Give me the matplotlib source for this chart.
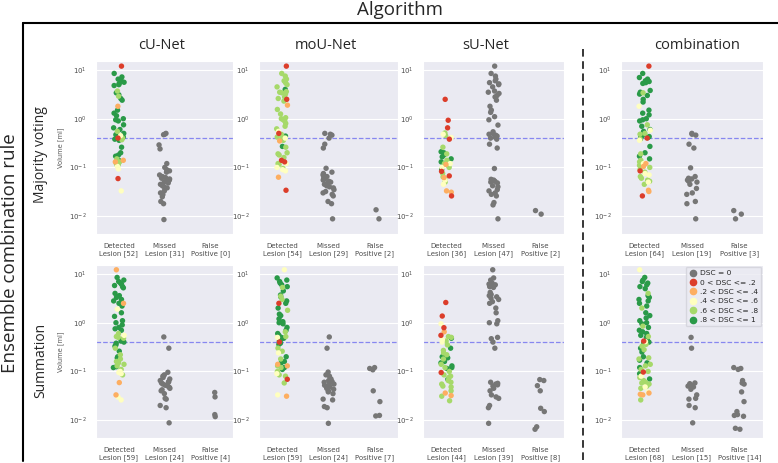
import numpy as np
import pandas as pd
import matplotlib
matplotlib.use('Agg')
import matplotlib.pyplot as plt
import seaborn as sns
from matplotlib.lines import Line2D

# --- data: lesion volumes [ml], detected lesions grouped by DSC class (5 = .8-1 ... 1 = 0-.2) ---
cu_mv_det = {
    5: [8.5, 7.2, 6.5, 6.0, 5.6, 5.3, 5.0, 4.8, 3.4, 3.1, 2.6, 2.4, 1.5, 1.3, 1.15, 1.0,
        0.95, 0.9, 0.75, 0.65, 0.6, 0.5, 0.47, 0.44, 0.42, 0.38, 0.36, 0.26, 0.2, 0.18, 0.17, 0.14],
    4: [3.7, 2.9, 0.55, 0.4, 0.37, 0.15, 0.13, 0.12, 0.115, 0.11],
    3: [0.45, 0.105, 0.093, 0.033],
    2: [1.8, 0.14, 0.13],
    1: [12.0, 0.4, 0.059],
}
cu_mv_missed = [0.5, 0.48, 0.47, 0.29, 0.24, 0.12, 0.1, 0.09, 0.085, 0.08, 0.07, 0.065, 0.062,
                0.06, 0.058, 0.055, 0.052, 0.05, 0.048, 0.045, 0.042, 0.04, 0.038, 0.033, 0.03,
                0.028, 0.027, 0.025, 0.02, 0.018, 0.0085]
cu_mv_fp = []

mou_mv_det = {
    5: [4.0, 0.44, 0.27],
    4: [8.5, 7.5, 6.5, 6.0, 5.5, 5.0, 4.5, 3.6, 3.5, 3.4, 3.2, 2.8, 2.6, 2.3, 1.55, 1.25, 1.05,
        1.0, 0.95, 0.9, 0.8, 0.7, 0.62, 0.48, 0.45, 0.42, 0.38, 0.36, 0.26, 0.2, 0.19, 0.18,
        0.16, 0.12, 0.115, 0.095],
    3: [0.55, 0.4, 0.12, 0.1, 0.09, 0.085],
    2: [1.9, 0.35, 0.063],
    1: [12.0, 2.5, 0.5, 0.14, 0.13, 0.034],
}
mou_mv_missed = [0.5, 0.48, 0.46, 0.4, 0.3, 0.25, 0.096, 0.08, 0.075, 0.07, 0.065, 0.06, 0.058,
                 0.055, 0.052, 0.05, 0.048, 0.045, 0.042, 0.04, 0.038, 0.035, 0.032, 0.03, 0.028,
                 0.026, 0.02, 0.018, 0.0088]
mou_mv_fp = [0.0135, 0.0088]

su_mv_det = {
    5: [0.21, 0.2, 0.18, 0.165, 0.15, 0.13, 0.11, 0.09],
    4: [0.51, 0.45, 0.26, 0.19, 0.14, 0.12, 0.1, 0.075, 0.064, 0.058, 0.05],
    3: [0.48, 0.41, 0.12, 0.1, 0.055, 0.045],
    2: [0.115, 0.062, 0.033, 0.031],
    1: [2.5, 0.93, 0.65, 0.38, 0.083, 0.067, 0.026],
}
su_mv_missed = [12.0, 8.5, 7.5, 6.5, 6.0, 5.5, 5.2, 5.0, 4.5, 3.7, 3.5, 3.3, 3.0, 2.8, 2.4, 1.8,
                1.5, 1.35, 1.1, 0.95, 0.74, 0.54, 0.5, 0.48, 0.46, 0.44, 0.42, 0.4, 0.38, 0.3,
                0.25, 0.095, 0.057, 0.055, 0.052, 0.05, 0.048, 0.042, 0.04, 0.035, 0.033, 0.03,
                0.028, 0.026, 0.019, 0.017, 0.0088]
su_mv_fp = [0.013, 0.011]

comb_mv_det = {
    5: [8.5, 7.0, 6.5, 6.0, 5.8, 5.5, 5.3, 3.8, 3.5, 3.2, 3.0, 2.5, 2.2, 1.5, 1.3, 1.2, 1.0,
        0.95, 0.9, 0.7, 0.6, 0.55, 0.46, 0.45, 0.43, 0.42, 0.41, 0.39, 0.27, 0.2, 0.17, 0.15],
    4: [3.4, 0.75, 0.5, 0.48, 0.38, 0.19, 0.14, 0.13, 0.11, 0.1, 0.09, 0.08, 0.065, 0.06,
        0.055, 0.052, 0.045],
    3: [1.8, 0.58, 0.36, 0.12, 0.075, 0.07, 0.05],
    2: [0.12, 0.105, 0.034, 0.032],
    1: [12.0, 0.4, 0.085, 0.026],
}
comb_mv_missed = [0.5, 0.48, 0.46, 0.3, 0.25, 0.098, 0.065, 0.06, 0.058, 0.055, 0.052, 0.05,
                  0.045, 0.037, 0.03, 0.028, 0.02, 0.018, 0.0088]
comb_mv_fp = [0.013, 0.011, 0.0088]

cu_sum_det = {
    5: [8.5, 7.5, 7.0, 6.5, 6.2, 5.8, 5.5, 5.2, 4.0, 3.6, 3.3, 3.0, 2.8, 2.5, 2.2, 1.6, 1.35,
        1.1, 1.0, 0.9, 0.8, 0.75, 0.7, 0.45, 0.42, 0.4, 0.38, 0.35, 0.33, 0.26, 0.2, 0.19,
        0.17, 0.125, 0.12],
    4: [0.6, 0.52, 0.5, 0.48, 0.3, 0.22, 0.18, 0.16, 0.15, 0.14, 0.13, 0.11, 0.085],
    3: [1.9, 0.55, 0.1, 0.095, 0.09, 0.03, 0.026],
    2: [12.2, 2.5, 0.059, 0.033],
}
cu_sum_missed = [0.51, 0.3, 0.096, 0.085, 0.08, 0.075, 0.07, 0.065, 0.062, 0.06, 0.058, 0.055,
                 0.052, 0.05, 0.047, 0.045, 0.042, 0.04, 0.035, 0.028, 0.027, 0.02, 0.018, 0.0088]
cu_sum_fp = [0.037, 0.03, 0.013, 0.0118]

mou_sum_det = {
    5: [8.3, 7.5, 7.0, 6.5, 6.0, 5.5, 4.5, 3.7, 3.4, 2.8, 2.5, 2.0, 1.5, 1.4, 1.2, 1.05, 1.0,
        0.95, 0.8, 0.7, 0.6, 0.55, 0.5, 0.48, 0.45, 0.42, 0.38, 0.36, 0.2, 0.16, 0.15, 0.12, 0.11],
    4: [5.3, 3.5, 3.0, 1.8, 0.65, 0.52, 0.3, 0.26, 0.18, 0.13, 0.12, 0.1, 0.085, 0.08, 0.058],
    3: [12.2, 0.5, 0.24, 0.09, 0.033],
    2: [0.14, 0.13, 0.031],
    1: [2.5, 0.4, 0.069],
}
mou_sum_missed = [0.51, 0.3, 0.097, 0.085, 0.08, 0.07, 0.065, 0.062, 0.06, 0.058, 0.055, 0.052,
                  0.05, 0.048, 0.045, 0.043, 0.04, 0.038, 0.035, 0.027, 0.026, 0.019, 0.018, 0.0086]
mou_sum_fp = [0.12, 0.115, 0.108, 0.04, 0.024, 0.0125, 0.0122]

su_sum_det = {
    5: [0.48, 0.3, 0.2, 0.2, 0.19, 0.16, 0.15, 0.13, 0.12, 0.115, 0.069],
    4: [0.52, 0.5, 0.42, 0.35, 0.27, 0.24, 0.22, 0.18, 0.14, 0.12, 0.1, 0.085, 0.08, 0.075,
        0.065, 0.06, 0.055, 0.05, 0.048, 0.04, 0.031, 0.025],
    3: [0.95, 0.45, 0.4],
    2: [0.65, 0.036, 0.032],
    1: [2.6, 1.37, 0.79, 0.55, 0.095],
}
su_sum_missed = [12.2, 8.3, 7.5, 6.5, 6.2, 6.0, 5.8, 5.5, 5.3, 4.2, 3.8, 3.6, 3.4, 3.2, 3.0, 2.7,
                 2.5, 2.0, 1.6, 1.1, 1.0, 0.95, 0.5, 0.47, 0.4, 0.3, 0.06, 0.057, 0.055, 0.053,
                 0.05, 0.045, 0.04, 0.033, 0.03, 0.028, 0.02, 0.018, 0.0086]
su_sum_fp = [0.068, 0.065, 0.051, 0.04, 0.0175, 0.015, 0.0073, 0.0065]

comb_sum_det = {
    5: [8.5, 7.5, 7.0, 6.5, 6.0, 5.5, 5.0, 3.6, 3.3, 3.0, 2.8, 2.5, 2.2, 1.6, 1.4, 1.25, 1.1,
        1.0, 0.95, 0.8, 0.7, 0.65, 0.6, 0.55, 0.5, 0.45, 0.43, 0.4, 0.38, 0.3, 0.25, 0.2, 0.17,
        0.15, 0.12, 0.09, 0.07],
    4: [4.0, 2.0, 0.85, 0.52, 0.36, 0.33, 0.28, 0.19, 0.18, 0.14, 0.13, 0.11, 0.1, 0.075,
        0.065, 0.06, 0.058, 0.055, 0.05, 0.045, 0.026],
    3: [12.2, 0.41, 0.08, 0.048, 0.038],
    2: [0.036, 0.034, 0.033],
    1: [0.42, 0.097],
}
comb_sum_missed = [0.5, 0.3, 0.058, 0.056, 0.054, 0.052, 0.05, 0.048, 0.043, 0.033, 0.028,
                   0.027, 0.02, 0.018, 0.0088]
comb_sum_fp = [0.12, 0.115, 0.11, 0.065, 0.058, 0.055, 0.038, 0.024, 0.015, 0.013, 0.0125,
               0.012, 0.0068, 0.0065]

algorithms = ['cU-Net', 'moU-Net', 'sU-Net', 'combination']
rules = ['Majority voting', 'Summation']
dsc_labels = ['DSC = 0', '0 < DSC <= .2', '.2 < DSC <= .4', '.4 < DSC <= .6',
              '.6 < DSC <= .8', '.8 < DSC <= 1']
dsc_colors = ['#767676', '#dc3d2a', '#fdae61', '#ffffbf', '#a6d96a', '#2a9a48']
threshold = 0.4

panels = [
    (0, 0, cu_mv_det, cu_mv_missed, cu_mv_fp),
    (0, 1, mou_mv_det, mou_mv_missed, mou_mv_fp),
    (0, 2, su_mv_det, su_mv_missed, su_mv_fp),
    (0, 3, comb_mv_det, comb_mv_missed, comb_mv_fp),
    (1, 0, cu_sum_det, cu_sum_missed, cu_sum_fp),
    (1, 1, mou_sum_det, mou_sum_missed, mou_sum_fp),
    (1, 2, su_sum_det, su_sum_missed, su_sum_fp),
    (1, 3, comb_sum_det, comb_sum_missed, comb_sum_fp),
]


def panel_frame(det, missed, fp):
    n_det = sum(len(v) for v in det.values())
    cats = [f'Detected\nLesion [{n_det}]', f'Missed\nLesion [{len(missed)}]',
            f'False\nPositive [{len(fp)}]']
    rows = []
    for k, vals in det.items():
        rows += [(cats[0], v, dsc_labels[k]) for v in vals]
    rows += [(cats[1], v, dsc_labels[0]) for v in missed]
    rows += [(cats[2], v, dsc_labels[0]) for v in fp]
    return pd.DataFrame(rows, columns=['cat', 'vol', 'dsc']), cats


sns.set_style('darkgrid')
plt.rcParams['font.family'] = ['DejaVu Sans']
np.random.seed(7)  # horizontal jitter only

W, H = 778, 463
fig = plt.figure(figsize=(W / 100, H / 100), dpi=100)

# panel extents in pixels
col_px = [(96, 233), (259, 398), (423, 564), (621, 763)]
row_px = [(61, 234), (265, 438)]
palette = dict(zip(dsc_labels, dsc_colors))

for r, c, det, missed, fp in panels:
    x0, x1 = col_px[c]
    y0, y1 = row_px[r]
    ax = fig.add_axes([x0 / W, 1 - y1 / H, (x1 - x0) / W, (y1 - y0) / H])
    df, cats = panel_frame(det, missed, fp)
    sns.stripplot(data=df, x='cat', y='vol', hue='dsc', order=cats, hue_order=dsc_labels,
                  palette=palette, jitter=0.12, size=3.9, linewidth=0, legend=False, ax=ax)
    ax.set_yscale('log')
    ax.set_ylim(0.0043, 15.3)
    ax.set_xlim(-0.5, 2.5)
    ax.axhline(threshold, ls='--', color='#6f6ff0', lw=0.9, alpha=0.8, zorder=1)
    ax.set_xlabel('')
    ax.set_ylabel('Volume [ml]' if c == 0 else '', fontsize=4.8, color='.35', labelpad=4)
    ax.tick_params(axis='both', labelsize=5, labelcolor='.3', pad=3)
    if r == 1 and c == 3:
        handles = [Line2D([], [], marker='o', ls='', color=col, markersize=4.5)
                   for col in dsc_colors]
        leg = ax.legend(handles, dsc_labels, loc='upper right', fontsize=5.4, frameon=True,
                        labelspacing=0.42, handletextpad=0.3, borderpad=0.4,
                        handlelength=1.2, borderaxespad=0.25)
        leg.get_frame().set_facecolor('#EAEAF2')
        leg.get_frame().set_edgecolor('#d2d2da')

big = 'Open Sans'
fig.text(400 / W, 1 - 15 / H, 'Algorithm', family=big, fontsize=13.5, ha='center', va='baseline')
fig.text(10 / W, 1 - 253 / H, 'Ensemble combination rule', family=big, fontsize=13.5,
         rotation=90, ha='center', va='center')
for name, xc in zip(algorithms, [162, 326, 486, 697]):
    fig.text(xc / W, 1 - 49 / H, name, family=big, fontsize=10.5, ha='center', va='baseline')
for name, yc in zip(rules, [155, 360]):
    fig.text(41 / W, 1 - yc / H, name, family=big, fontsize=10, rotation=90,
             ha='center', va='center')

# frame lines around the grid of panels
fig.add_artist(Line2D([23 / W, 1], [1 - 23 / H] * 2, color='k', lw=1.5, transform=fig.transFigure))
fig.add_artist(Line2D([23 / W] * 2, [1 - 23 / H, 0.005], color='k', lw=1.5,
                      transform=fig.transFigure))
fig.add_artist(Line2D([583 / W] * 2, [1 - 49 / H, 0], color='k', lw=1.1, ls=(0, (5, 3)),
                      transform=fig.transFigure))

fig.savefig('out.png', dpi=100)
